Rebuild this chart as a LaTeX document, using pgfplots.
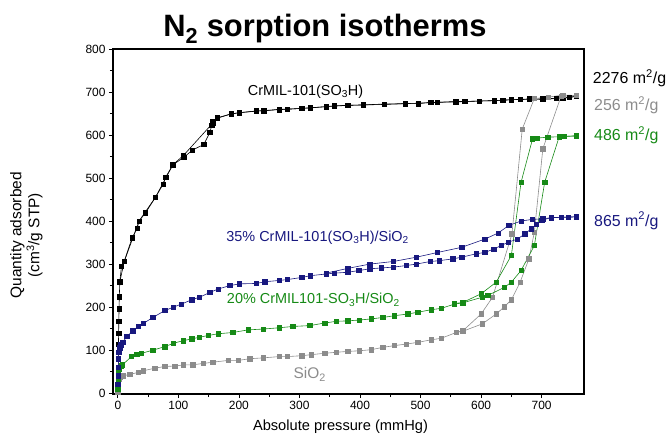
\documentclass[border=0pt]{standalone}
\usepackage{fontspec}
\setmainfont{Liberation Sans}
\usepackage{pgfplots}
\pgfplotsset{compat=1.18}
\definecolor{cblack}{HTML}{000000}
\definecolor{cgray}{HTML}{8C8C8C}
\definecolor{cgreen}{HTML}{168A16}
\definecolor{cnavy}{HTML}{18187F}
\tikzset{
  iso/.style={color=#1, line width=0.6pt, mark=square*, mark size=2.2pt,
    mark options={solid, fill=#1, draw=#1}},
}
\begin{document}
\begin{tikzpicture}
\useasboundingbox (-113bp,-54bp) rectangle (559bp,394bp);
\begin{axis}[
  at={(0,0)}, anchor=south west,
  scale only axis, width=471bp, height=345bp,
  xmin=-8, xmax=770, ymin=-2, ymax=800,
  xtick={0,100,...,700}, ytick={0,100,...,800},
  minor tick num=1,
  tick align=outside, xtick pos=left, ytick pos=left,
  major tick length=4bp, minor tick length=3bp,
  axis line style={line width=1.6pt},
  tick style={line width=0.8pt, black},
  /pgf/number format/assume math mode=true,
  tick label style={font=\fontsize{12}{12}\selectfont},
  xlabel={Absolute pressure (mmHg)},
  ylabel={Quantity adsorbed\\(cm\textsuperscript{3}/g STP)},
  xlabel style={font=\fontsize{14.7}{14.7}\selectfont, at={(axis description cs:0.483,0)}, anchor=north, yshift=-22bp},
  ylabel style={font=\fontsize{15.5}{18}\selectfont, align=center, at={(axis description cs:-0.142,0.46)}, anchor=south},
  clip=false,
]
% CrMIL-101(SO3H) adsorption
\addplot[iso=cblack] coordinates {
(0.3,5) (0.5,29) (0.7,52) (1,95) (1,114) (1.3,139) (1.6,167) (2,196) (2.4,224) (3.3,259) (6,295) (10.5,306)
(23.6,361) (32,383) (35,400) (45.7,419) (62,455) (75,486) (79,502) (91,531) (109,548) (123,565)
(142,578) (152,606) (155,622) (157,631) (164,639) (187,649) (201,652) (229,656) (241,656)
(267,660) (280,660) (304,662) (318,663) (344,666) (358,668) (380,669) (405,670) (440,672)
(475,673) (496,673) (517,676) (528,676) (558,678) (573,678) (597,679) (622,680) (636,681)
(650,682) (665,683) (680,684) (702,683) (724,685) (746,687) (757,690)};
% CrMIL-101(SO3H) desorption
\addplot[iso=cblack] coordinates {
(757,690) (735,686) (702,684) (680,683) (650,682) (622,680) (597,679) (558,677) (528,676)
(496,674) (475,673) (440,671) (405,670) (380,669) (344,666) (304,662) (267,659) (241,657)
(201,652) (187,649) (164,640) (157,628) (108,552) (91,531) (62,455) (35,400) (10.5,306) (3.3,259)};
% SiO2 adsorption
\addplot[iso=cgray] coordinates {
(0.2,3) (0.4,10) (0.6,18) (1,26) (2,32) (3.3,38) (8.8,40) (20,44) (33.5,48) (42,52) (61,58)
(77.6,62) (94,63) (108,65.5) (124,66) (141,69) (157,72) (182,76) (198.6,76) (218,80) (240,82)
(267,85) (280,85) (304,87) (319.6,89.5) (341.6,92.6) (361,95) (380,97) (399,98.5) (418.6,101)
(437.8,106.5) (457,110.5) (476,114) (495.5,118) (517.6,124) (534,127.5) (559,141) (570,144)
(602,161) (625,184) (638.6,201) (650,217) (664.5,258) (679,312) (688,374) (702,568) (732,690) (757,692)};
% SiO2 desorption
\addplot[iso=cgray] coordinates {
(757,692) (735,693) (711,688) (688,685) (668,614) (651,370) (619,223) (600,184) (570,145) (559,142)};
% 20% adsorption
\addplot[iso=cgreen] coordinates {
(0.2,10) (0.4,22) (0.7,35) (1.2,48) (2,56) (6,64) (7.7,66) (22.6,85) (31,91) (39,92.5) (58,100)
(77.6,108) (92,116) (108,122) (122,126) (135,130) (149,134) (165.6,138) (190,141) (215,147)
(240,149) (267,152) (289,155) (317,157) (341.6,163) (361,167) (380,168) (399,170) (418.6,172.5)
(437.8,176) (457,180) (479,184) (495.5,188) (517.6,194) (534,197) (556,207) (570,210)
(602,223) (611,227) (638.6,246) (650,258) (666,285) (688,343) (705,490) (729,596) (737,597) (757,598)};
% 20% desorption
\addplot[iso=cgreen] coordinates {
(757,598) (729,596) (710,595) (693,593) (685,591) (666,490) (650,320) (625,258) (600,231) (570,211) (556,208)};
% 35% adsorption
\addplot[iso=cnavy] coordinates {
(0.2,20) (0.4,40) (0.7,60) (1,80) (1.5,95) (3,105) (5,112) (8,118) (15,132) (25,145) (33.5,155)
(42,162) (58,176) (77.6,192) (92,200) (105,207) (122,217) (135,223) (152,234) (165.6,242)
(185,250) (201,254) (229,255) (243,259) (267,262) (280,264) (304,269) (318,273) (344,277)
(358,279) (380,281) (398,285) (416,289) (435,291) (455,293) (476,296.5) (493,300) (516,306)
(531,308) (553,312) (568,316) (592,324) (606,327) (621,335) (633,343) (645,351) (660,358)
(672,370) (683,382) (691,392) (700,402) (716,408) (733,409) (744,409) (757,410)};
% 35% desorption
\addplot[iso=cnavy] coordinates {
(757,410) (744,409) (716,408) (702,405) (685,404) (666,400) (646,390) (628,372) (606,358)
(568,339) (528,327) (493,316) (455,306) (416,300) (380,290) (344,279)};
% annotations
\node[font=\fontsize{14.5}{14.5}\selectfont, text=cblack] at (axis cs:310,701) {CrMIL-101(SO\textsubscript{3}H)};
\node[font=\fontsize{14.5}{14.5}\selectfont, text=cnavy] at (axis cs:330,361) {35\% CrMIL-101(SO\textsubscript{3}H)/SiO\textsubscript{2}};
\node[font=\fontsize{14.5}{14.5}\selectfont, text=cgreen] at (axis cs:323,217) {20\% CrMIL101-SO\textsubscript{3}H/SiO\textsubscript{2}};
\node[font=\fontsize{15.5}{15.5}\selectfont, text=cgray] at (axis cs:317,43) {SiO\textsubscript{2}};
\node[font=\fontsize{16}{16}\selectfont, text=cblack, anchor=west] at (axis cs:779,732) {2276 m\textsuperscript{2}/g};
\node[font=\fontsize{16}{16}\selectfont, text=cgray, anchor=west] at (axis cs:781,669) {256 m\textsuperscript{2}/g};
\node[font=\fontsize{16}{16}\selectfont, text=cgreen, anchor=west] at (axis cs:781,600) {486 m\textsuperscript{2}/g};
\node[font=\fontsize{16}{16}\selectfont, text=cnavy, anchor=west] at (axis cs:781,401) {865 m\textsuperscript{2}/g};
\node[font=\fontsize{31}{31}\selectfont\bfseries, anchor=base] at (axis description cs:0.45,1) [yshift=12bp] {N\textsubscript{2} sorption isotherms};
\end{axis}
\end{tikzpicture}
\end{document}
